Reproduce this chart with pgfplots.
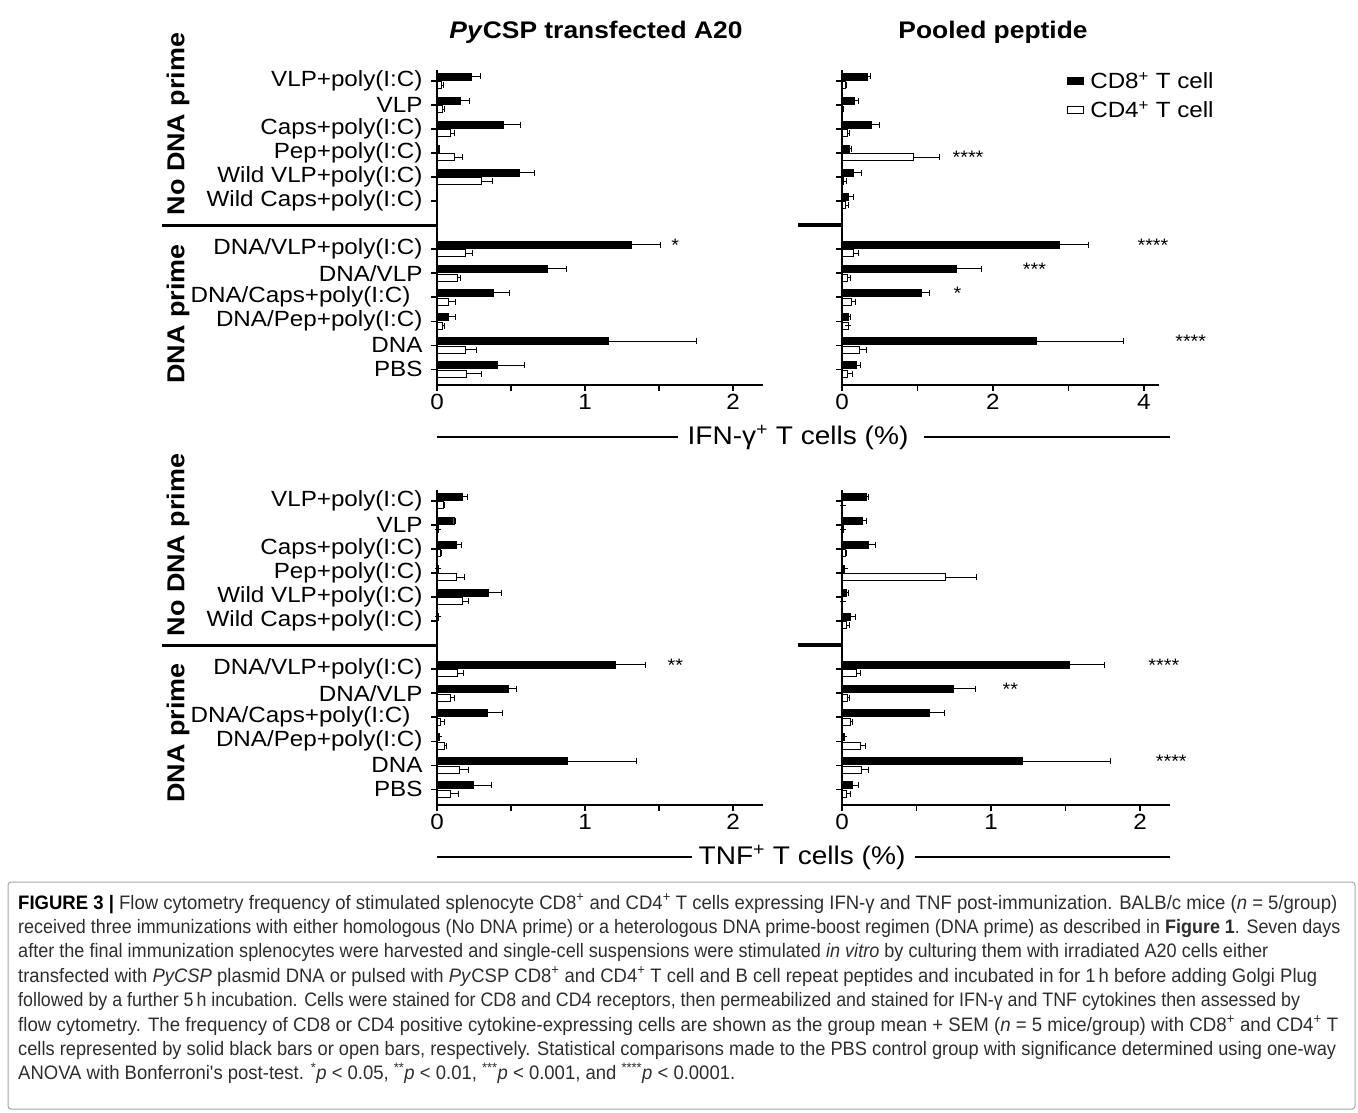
\documentclass[border=0pt]{standalone}
\usepackage{fontspec}
\setmainfont[FakeStretch=1.1]{Liberation Sans}
\newfontfamily\capfont{Liberation Sans}
\usepackage{graphicx}
\usepackage{pgfplots}
\pgfplotsset{compat=1.18}

\newcommand\lab{\fontsize{22}{24}\selectfont}
\newcommand\ttl{\bfseries\fontsize{24}{26}\selectfont}
\newcommand\grp{\bfseries\fontsize{24.5}{26}\selectfont}
\newcommand\stars{\fontsize{18}{18}\selectfont}
\newcommand\capsz{\fontsize{19.5}{22}\selectfont}
% one caption line, squeezed sideways to the width it has in the figure
\newcommand\capline[3]{\node at (18pt,#1) {\resizebox{#2}{\height}{#3}};}

\pgfplotsset{
  panel/.style={
    scale only axis, height=315pt,
    xmin=0, ymin=-0.65, ymax=12.45,
    xbar, bar width=0.29, clip=false,
    axis x line*=bottom, axis y line*=left,
    axis line style={-, line width=2pt},
    tick style={line width=1.5pt, black},
    tick align=outside, major tick length=6pt, minor tick length=6pt,
    ytick={0,1,2,3,4,5,7,8,9,10,11,12},
    tick label style={font=\lab},
    yticklabel style={xshift=-5pt},
    /pgf/number format/assume math mode=true,
    error bars/x dir=plus, error bars/x explicit,
    error bars/error bar style={line width=1pt, black},
    error bars/error mark options={line width=1pt, mark size=3pt, black, rotate=90},
  },
  cd8/.style={fill=black, draw=black, bar shift=0.18},
  cd4/.style={fill=white, draw=black, line width=1pt, bar shift=-0.18},
  names/.style={yticklabels={PBS, DNA, DNA/Pep+poly(I:C), {DNA/Caps+poly(I:C)\hspace*{12pt}}, DNA/VLP,
      DNA/VLP+poly(I:C), Wild Caps+poly(I:C), Wild VLP+poly(I:C), Pep+poly(I:C),
      Caps+poly(I:C), VLP, VLP+poly(I:C)}},
}

\begin{document}
\begin{tikzpicture}
\useasboundingbox (0pt,0pt) rectangle (1358pt,-1112pt);

% ---------- IFN-gamma, PyCSP transfected A20 ----------
\begin{axis}[panel, names, at={(437pt,-385pt)}, anchor=south west,
    width=325.6pt, xmax=2.2, xtick={0,1,2}, minor xtick={0.5,1.5}]
\addplot[cd8] coordinates {
  (0.234,12) +- (0.062,0) (0.160,11) +- (0.057,0) (0.450,10) +- (0.113,0)
  (0.015,9) +- (0.005,0) (0.555,8) +- (0.101,0)
  (1.310,5) +- (0.197,0) (0.746,4) +- (0.130,0) (0.380,3) +- (0.107,0)
  (0.079,2) +- (0.048,0) (1.160,1) +- (0.595,0) (0.408,0) +- (0.182,0)};
\addplot[cd4] coordinates {
  (0.030,12) +- (0.012,0) (0.035,11) +- (0.013,0) (0.093,10) +- (0.027,0)
  (0.118,9) +- (0.051,0) (0.300,8) +- (0.075,0)
  (0.190,5) +- (0.050,0) (0.140,4) +- (0.020,0) (0.076,3) +- (0.051,0)
  (0.037,2) +- (0.011,0) (0.190,1) +- (0.078,0) (0.197,0) +- (0.107,0)};
\node[font=\stars] at (axis cs:1.61,5.18) {*};
\draw[line width=3pt] (axis cs:0,6) -- ++(-275pt,0pt);
\end{axis}

% ---------- IFN-gamma, pooled peptide ----------
\begin{axis}[panel, yticklabels={}, at={(842pt,-385pt)}, anchor=south west,
    width=317pt, xmax=4.2, xtick={0,2,4}, minor xtick={1,3},
    legend style={at={(0.71,1.0)}, anchor=north west, draw=none, fill=none,
      font=\lab, inner sep=0pt, row sep=7pt,
      nodes={inner xsep=6pt}},
    legend cell align=left,
    legend image code/.code={\draw[#1, line width=1pt] (0pt,-3.5pt) rectangle (16pt,3.5pt);}]
\addplot[cd8] coordinates {
  (0.330,12) +- (0.050,0) (0.164,11) +- (0.056,0) (0.390,10) +- (0.110,0)
  (0.100,9) +- (0.030,0) (0.150,8) +- (0.110,0) (0.078,7) +- (0.072,0)
  (2.880,5) +- (0.390,0) (1.510,4) +- (0.340,0) (1.050,3) +- (0.110,0)
  (0.078,2) +- (0.032,0) (2.570,1) +- (1.160,0) (0.186,0) +- (0.064,0)};
\addlegendentry{CD8\textsuperscript{+} T cell}
\addplot[cd4] coordinates {
  (0.040,12) +- (0.013,0) (0.013,11) +- (0.005,0) (0.078,10) +- (0.022,0)
  (0.950,9) +- (0.340,0) (0.020,8) +- (0.036,0) (0.048,7) +- (0.038,0)
  (0.155,5) +- (0.065,0) (0.070,4) +- (0.038,0) (0.130,3) +- (0.047,0)
  (0.086,2) +- (0.000,0) (0.230,1) +- (0.100,0) (0.070,0) +- (0.064,0)};
\addlegendentry{CD4\textsuperscript{+} T cell}
\node[font=\stars] at (axis cs:1.67,8.82) {****};
\node[font=\stars] at (axis cs:4.12,5.18) {****};
\node[font=\stars] at (axis cs:2.55,4.18) {***};
\node[font=\stars] at (axis cs:1.53,3.18) {*};
\node[font=\stars] at (axis cs:4.62,1.18) {****};
\draw[line width=3.5pt] (axis cs:0,6) -- ++(-44pt,0pt);
\end{axis}

% ---------- TNF, PyCSP transfected A20 ----------
\begin{axis}[panel, names, at={(437pt,-805pt)}, anchor=south west,
    width=325.6pt, xmax=2.2, xtick={0,1,2}, minor xtick={0.5,1.5}]
\addplot[cd8] coordinates {
  (0.170,12) +- (0.035,0) (0.113,11) +- (0.014,0) (0.127,10) +- (0.036,0)
  (0.006,9) +- (0,0) (0.344,8) +- (0.093,0) (0.005,7) +- (0,0)
  (1.203,5) +- (0.207,0) (0.480,4) +- (0.060,0) (0.338,3) +- (0.107,0)
  (0.013,2) +- (0,0) (0.880,1) +- (0.470,0) (0.245,0) +- (0.125,0)};
\addplot[cd4] coordinates {
  (0.042,12) +- (0.010,0) (0.010,11) +- (0,0) (0.023,10) +- (0.008,0)
  (0.135,9) +- (0.048,0) (0.170,8) +- (0.040,0)
  (0.140,5) +- (0.037,0) (0.090,4) +- (0.030,0) (0.023,3) +- (0.025,0)
  (0.050,2) +- (0.015,0) (0.150,1) +- (0.060,0) (0.093,0) +- (0.053,0)};
\node[font=\stars] at (axis cs:1.61,5.18) {**};
\draw[line width=3pt] (axis cs:0,6) -- ++(-275pt,0pt);
\end{axis}

% ---------- TNF, pooled peptide ----------
\begin{axis}[panel, yticklabels={}, at={(842pt,-805pt)}, anchor=south west,
    width=327.8pt, xmax=2.2, xtick={0,1,2}, minor xtick={0.5,1.5}]
\addplot[cd8] coordinates {
  (0.160,12) +- (0.018,0) (0.133,11) +- (0.034,0) (0.178,10) +- (0.044,0)
  (0.018,9) +- (0,0) (0.027,8) +- (0.017,0) (0.056,7) +- (0.037,0)
  (1.522,5) +- (0.240,0) (0.749,4) +- (0.144,0) (0.584,3) +- (0.107,0)
  (0.016,2) +- (0,0) (1.211,1) +- (0.589,0) (0.071,0) +- (0.038,0)};
\addplot[cd4] coordinates {
  (0.004,12) +- (0,0) (0.007,11) +- (0,0) (0.022,10) +- (0.011,0)
  (0.693,9) +- (0.209,0) (0.004,8) +- (0,0) (0.027,7) +- (0.022,0)
  (0.096,5) +- (0.031,0) (0.038,4) +- (0.013,0) (0.060,3) +- (0.013,0)
  (0.122,2) +- (0.036,0) (0.129,1) +- (0.051,0) (0.033,0) +- (0.023,0)};
\node[font=\stars] at (axis cs:2.16,5.18) {****};
\node[font=\stars] at (axis cs:1.13,4.18) {**};
\node[font=\stars] at (axis cs:2.21,1.18) {****};
\draw[line width=3.5pt] (axis cs:0,6) -- ++(-44pt,0pt);
\end{axis}

% titles, group labels, shared x labels
\node[font=\ttl] at (596pt,-32pt) {\textit{Py}CSP transfected A20};
\node[font=\ttl] at (993pt,-32pt) {Pooled peptide};
\node[font=\grp, rotate=90] at (178pt,-124pt) {No DNA prime};
\node[font=\grp, rotate=90] at (178pt,-314pt) {DNA prime};
\node[font=\grp, rotate=90] at (178pt,-545pt) {No DNA prime};
\node[font=\grp, rotate=90] at (178pt,-733pt) {DNA prime};

\node[font=\fontsize{25.5}{27}\selectfont] at (798pt,-437pt) {IFN-γ\textsuperscript{+} T cells (\%)};
\draw[line width=1.8pt] (437pt,-437pt) -- (678pt,-437pt);
\draw[line width=1.8pt] (924pt,-437pt) -- (1170pt,-437pt);
\node[font=\fontsize{25.5}{27}\selectfont] at (802pt,-857pt) {TNF\textsuperscript{+} T cells (\%)};
\draw[line width=1.8pt] (437pt,-857pt) -- (692pt,-857pt);
\draw[line width=1.8pt] (915pt,-857pt) -- (1170pt,-857pt);

% caption box
\draw[gray!70, line width=1pt, rounded corners=3pt] (8pt,-882pt) rectangle (1355pt,-1109pt);
\begin{scope}[every node/.style={anchor=base west, inner sep=0pt, text=black!82, font=\capsz\capfont}]
\capline{-909pt}{1319pt}{\textbf{\color{black}FIGURE 3 |} Flow cytometry frequency of stimulated splenocyte CD8\textsuperscript{+} and CD4\textsuperscript{+} T cells expressing IFN-γ and TNF post-immunization. BALB/c mice (\textit{n} = 5/group)}
\capline{-933.4pt}{1322pt}{received three immunizations with either homologous (No DNA prime) or a heterologous DNA prime-boost regimen (DNA prime) as described in \textbf{Figure 1}. Seven days}
\capline{-957.8pt}{1250pt}{after the final immunization splenocytes were harvested and single-cell suspensions were stimulated \textit{in vitro} by culturing them with irradiated A20 cells either}
\capline{-982.2pt}{1299pt}{transfected with \textit{PyCSP} plasmid DNA or pulsed with \textit{Py}CSP CD8\textsuperscript{+} and CD4\textsuperscript{+} T cell and B cell repeat peptides and incubated in for 1\,h before adding Golgi Plug}
\capline{-1006.6pt}{1282pt}{followed by a further 5\,h incubation. Cells were stained for CD8 and CD4 receptors, then permeabilized and stained for IFN-γ and TNF cytokines then assessed by}
\capline{-1031pt}{1320pt}{flow cytometry. The frequency of CD8 or CD4 positive cytokine-expressing cells are shown as the group mean + SEM (\textit{n} = 5 mice/group) with CD8\textsuperscript{+} and CD4\textsuperscript{+} T}
\capline{-1055.4pt}{1318pt}{cells represented by solid black bars or open bars, respectively. Statistical comparisons made to the PBS control group with significance determined using one-way}
\capline{-1079.8pt}{717pt}{ANOVA with Bonferroni's post-test. \textsuperscript{*}\textit{p} < 0.05, \textsuperscript{**}\textit{p} < 0.01, \textsuperscript{***}\textit{p} < 0.001, and \textsuperscript{****}\textit{p} < 0.0001.}
\end{scope}
\end{tikzpicture}
\end{document}
